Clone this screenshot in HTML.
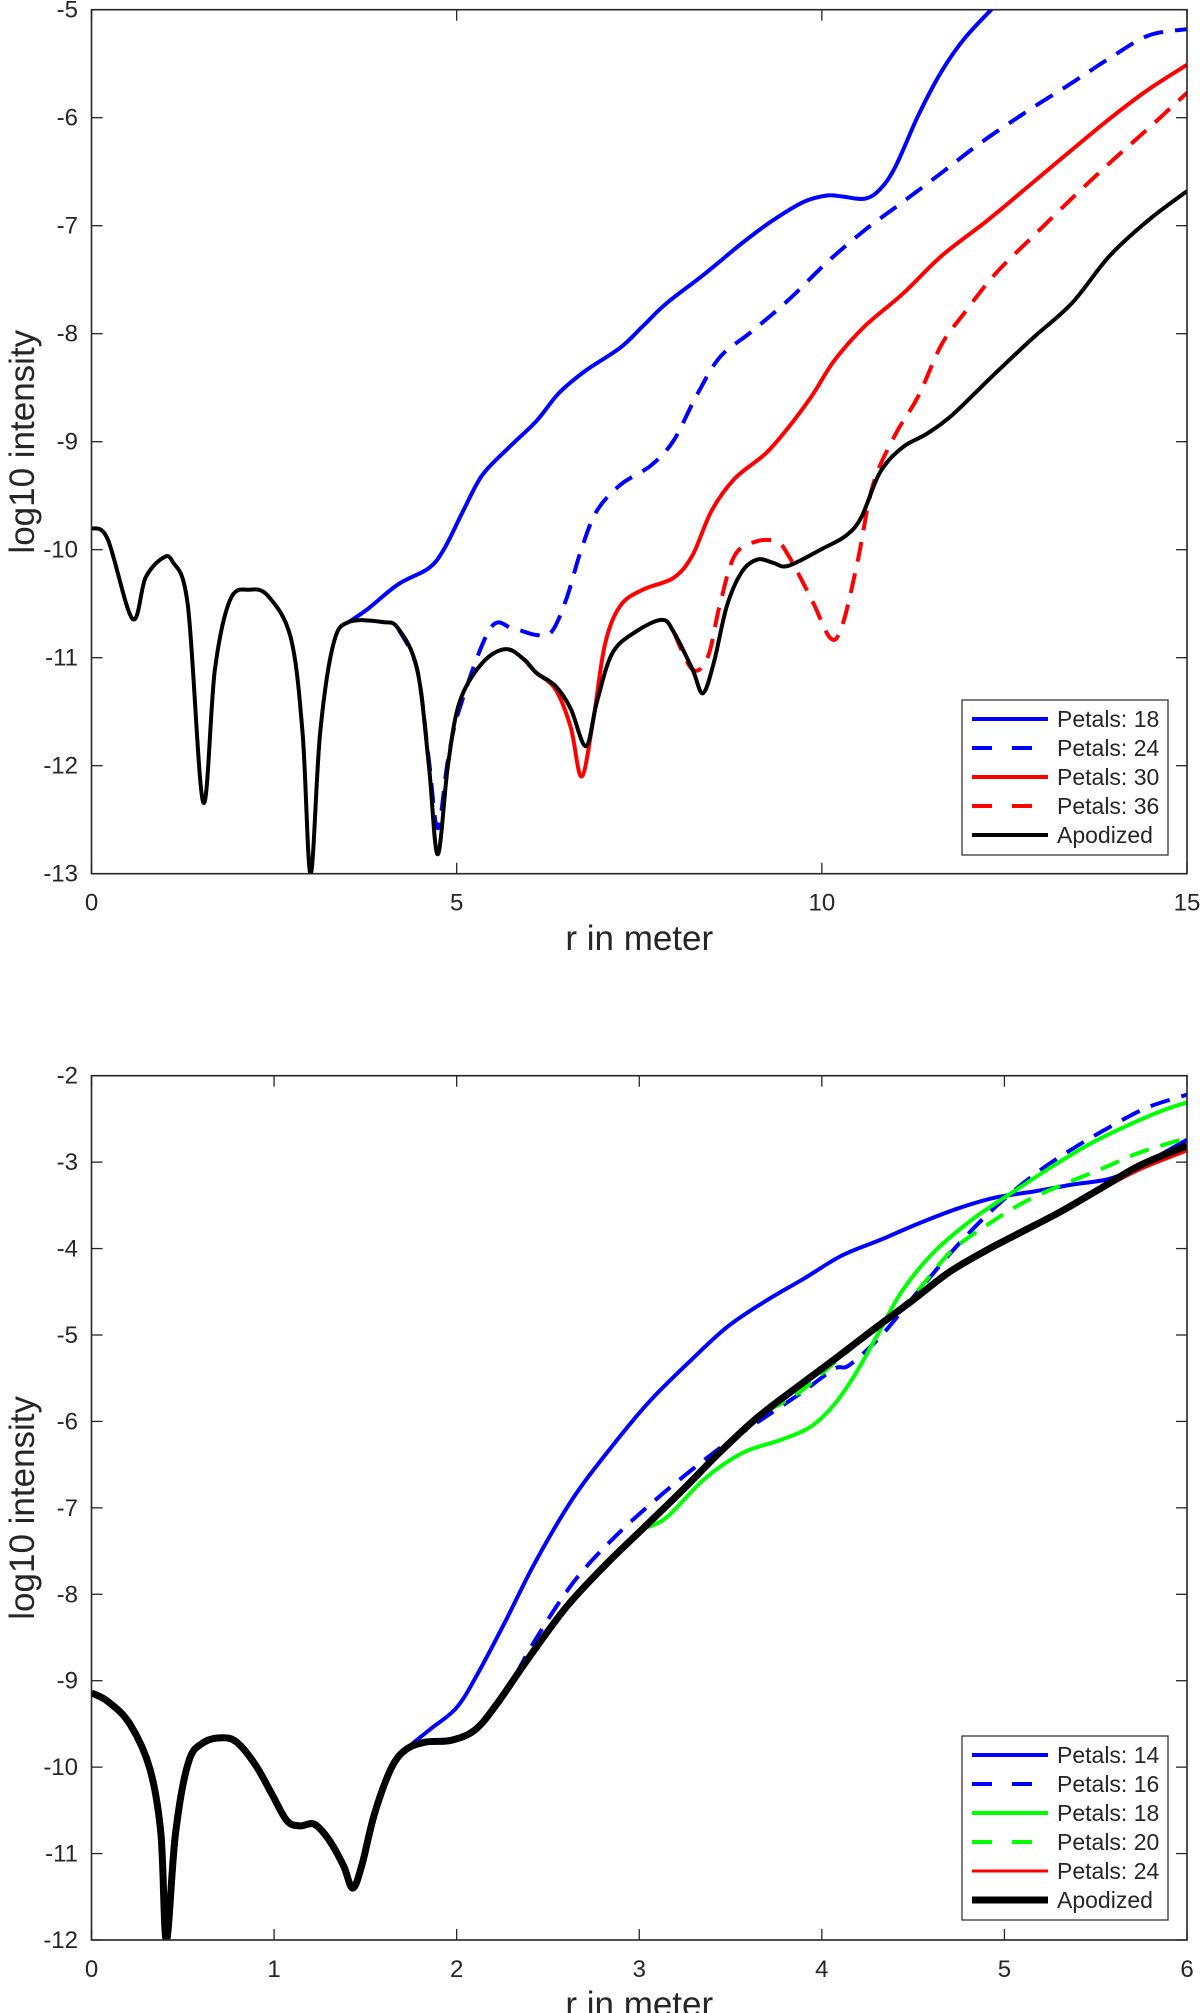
<!DOCTYPE html>
<html><head><meta charset="utf-8"><style>
html,body{margin:0;padding:0;background:#fff;}
svg{display:block;}
text{font-family:"Liberation Sans",sans-serif;fill:#262626;}
</style></head><body>
<svg id="svg" width="1200" height="2013" viewBox="0 0 1200 2013">
<defs>
<clipPath id="clipTop"><rect x="91.5" y="9.7" width="1095.5" height="864"/></clipPath>
<clipPath id="clipBot"><rect x="91.5" y="1075.7" width="1095.5" height="864.3"/></clipPath>
</defs>
<g id="top"></g>
<g id="bot"></g>
</svg>
<script>
// ---- top chart data ----
const topXTicks = [0,5,10,15];
const topYTicks = [-5,-6,-7,-8,-9,-10,-11,-12,-13];
const apoTopX = [0,0.22,0.56,0.74,0.97,1.11,1.32,1.53,1.69,1.90,2.16,2.42,2.73,2.89,3.0,3.13,3.31,3.52,3.99,4.20,4.46,4.62,4.74,4.88,5.04,5.35,5.67,5.93,6.09,6.35,6.56,6.77,6.92,7.13,7.45,7.81,7.97,8.23,8.37,8.52,8.70,8.91,9.12,9.33,9.54,10.01,10.33,10.54,10.80,11.11,11.43,11.79,12.37,12.89,13.42,13.94,14.47,15];
const apoTopY = [-9.80,-9.90,-10.64,-10.26,-10.08,-10.11,-10.52,-12.34,-11.11,-10.46,-10.37,-10.43,-10.82,-11.70,-13.0,-11.70,-10.88,-10.67,-10.67,-10.73,-11.11,-12.0,-12.82,-12.0,-11.41,-11.05,-10.92,-11.02,-11.14,-11.26,-11.47,-11.82,-11.41,-10.96,-10.76,-10.65,-10.76,-11.11,-11.33,-11.05,-10.52,-10.20,-10.09,-10.12,-10.15,-9.99,-9.87,-9.70,-9.28,-9.05,-8.93,-8.75,-8.37,-8.04,-7.72,-7.28,-6.95,-6.68];
const p18TopX = [3.52,3.78,4.20,4.62,4.83,5.09,5.35,5.72,6.09,6.40,6.77,7.24,7.55,7.87,8.39,8.91,9.33,9.75,10.07,10.28,10.59,10.80,11.01,11.32,11.64,11.95,12.32,12.58];
const p18TopY = [-10.67,-10.55,-10.32,-10.17,-9.99,-9.64,-9.31,-9.05,-8.81,-8.55,-8.34,-8.13,-7.93,-7.72,-7.45,-7.16,-6.95,-6.78,-6.72,-6.73,-6.75,-6.66,-6.45,-5.98,-5.57,-5.27,-5.0,-4.83];
const p24TopX = [4.20,4.46,4.62,4.74,4.88,5.04,5.46,5.77,6.09,6.30,6.50,6.71,6.92,7.24,7.66,7.97,8.28,8.60,9.02,9.54,10.07,10.59,11.11,11.64,12.16,12.79,13.42,13.94,14.47,15];
const p24TopY = [-10.73,-11.11,-11.95,-12.58,-11.95,-11.47,-10.73,-10.73,-10.79,-10.76,-10.46,-9.99,-9.64,-9.40,-9.22,-8.99,-8.58,-8.22,-7.99,-7.69,-7.34,-7.04,-6.78,-6.51,-6.24,-5.95,-5.68,-5.45,-5.24,-5.18];
const p30TopX = [5.93,6.09,6.35,6.56,6.71,6.87,7.03,7.24,7.55,7.97,8.23,8.49,8.81,9.23,9.54,9.86,10.17,10.59,11.11,11.64,12.27,12.89,13.42,13.94,14.47,15];
const p30TopY = [-11.02,-11.14,-11.29,-11.64,-12.10,-11.58,-10.88,-10.52,-10.37,-10.26,-10.05,-9.64,-9.34,-9.11,-8.87,-8.58,-8.25,-7.93,-7.63,-7.28,-6.95,-6.60,-6.30,-6.01,-5.74,-5.51];
const p36TopX = [7.97,8.23,8.44,8.60,8.81,9.12,9.39,9.54,9.86,10.12,10.28,10.49,10.70,11.01,11.32,11.64,11.95,12.37,12.89,13.42,13.94,14.47,15];
const p36TopY = [-10.76,-11.11,-10.99,-10.52,-10.05,-9.92,-9.93,-10.05,-10.46,-10.82,-10.70,-10.11,-9.40,-8.93,-8.58,-8.10,-7.81,-7.45,-7.10,-6.75,-6.42,-6.10,-5.77];
const topLegendLabels = ["Petals: 18","Petals: 24","Petals: 30","Petals: 36","Apodized"];

// ---- bottom chart data ----
const botXTicks = [0,1,2,3,4,5,6];
const botYTicks = [-2,-3,-4,-5,-6,-7,-8,-9,-10,-11,-12];
const apoBotX = [0,0.09,0.21,0.32,0.38,0.41,0.46,0.53,0.61,0.72,0.80,0.90,0.99,1.07,1.14,1.22,1.30,1.38,1.43,1.48,1.55,1.64,1.72,1.83,1.97,2.10,2.22,2.39,2.60,2.81,3.02,3.23,3.44,3.65,3.86,4.07,4.28,4.49,4.70,4.91,5.12,5.32,5.53,5.74,6];
const apoBotY = [-9.14,-9.24,-9.50,-10.02,-10.77,-12.0,-10.77,-9.95,-9.72,-9.66,-9.72,-9.98,-10.32,-10.62,-10.68,-10.66,-10.84,-11.14,-11.40,-11.14,-10.54,-10.02,-9.80,-9.71,-9.69,-9.57,-9.27,-8.75,-8.15,-7.67,-7.24,-6.81,-6.36,-5.95,-5.61,-5.28,-4.94,-4.61,-4.27,-4.01,-3.78,-3.56,-3.30,-3.04,-2.81];
const p14BotX = [1.64,1.72,1.85,2.0,2.12,2.27,2.43,2.64,2.85,3.06,3.27,3.48,3.69,3.90,4.11,4.32,4.53,4.74,4.95,5.16,5.37,5.58,5.78,6];
const p14BotY = [-10.02,-9.80,-9.57,-9.31,-8.90,-8.30,-7.63,-6.88,-6.29,-5.76,-5.32,-4.91,-4.61,-4.35,-4.08,-3.90,-3.71,-3.54,-3.41,-3.34,-3.26,-3.19,-3.00,-2.74];
const p16BotX = [1.97,2.10,2.27,2.43,2.64,2.85,3.06,3.27,3.48,3.69,3.90,4.07,4.15,4.32,4.53,4.74,4.95,5.16,5.37,5.58,5.78,6];
const p16BotY = [-9.69,-9.57,-9.12,-8.53,-7.86,-7.37,-6.96,-6.59,-6.25,-5.95,-5.65,-5.39,-5.35,-5.02,-4.49,-3.97,-3.52,-3.15,-2.85,-2.59,-2.37,-2.22];
const p18BotX = [3.02,3.15,3.36,3.57,3.78,3.94,4.07,4.19,4.32,4.44,4.61,4.82,5.03,5.24,5.45,5.66,5.87,6];
const p18BotY = [-7.24,-7.11,-6.66,-6.36,-6.21,-6.06,-5.80,-5.43,-4.94,-4.49,-4.05,-3.67,-3.37,-3.08,-2.81,-2.59,-2.40,-2.31];
const p20BotX = [3.44,3.65,3.86,4.07,4.28,4.49,4.70,4.91,5.12,5.32,5.53,5.74,6];
const p20BotY = [-6.36,-5.95,-5.69,-5.32,-4.94,-4.57,-4.05,-3.72,-3.45,-3.26,-3.08,-2.89,-2.72];
const p24BotX = [5.12,5.32,5.53,5.74,6];
const p24BotY = [-3.78,-3.56,-3.32,-3.09,-2.87];
const botLegendLabels = ["Petals: 14","Petals: 16","Petals: 18","Petals: 20","Petals: 24","Apodized"];

const NS = "http://www.w3.org/2000/svg";
function mk(tag, attrs, parent){
  const e = document.createElementNS(NS, tag);
  for (const k in attrs) e.setAttribute(k, attrs[k]);
  parent.appendChild(e);
  return e;
}
function makeAxes(x0,x1,y0,y1,dx0,dx1,dy0,dy1){
  return {
    sx: v => x0 + (v-dx0)/(dx1-dx0)*(x1-x0),
    sy: v => y0 + (dy1-v)/(dy1-dy0)*(y1-y0)
  };
}
function pathFrom(xs, ys, ax){
  const P = xs.map((x,i)=>[ax.sx(x), ax.sy(ys[i])]);
  let d = "M"+P[0][0].toFixed(1)+","+P[0][1].toFixed(1);
  for (let i=0;i<P.length-1;i++){
    const p0=P[Math.max(i-1,0)], p1=P[i], p2=P[i+1], p3=P[Math.min(i+2,P.length-1)];
    const t=1/6;
    const c1=[p1[0]+(p2[0]-p0[0])*t, p1[1]+(p2[1]-p0[1])*t];
    const c2=[p2[0]-(p3[0]-p1[0])*t, p2[1]-(p3[1]-p1[1])*t];
    d += "C"+c1[0].toFixed(1)+","+c1[1].toFixed(1)+" "+c2[0].toFixed(1)+","+c2[1].toFixed(1)+" "+p2[0].toFixed(1)+","+p2[1].toFixed(1);
  }
  return d;
}
function drawChart(g, box, dom, xt, yt, series, legend, clipId, xlabY){
  const ax = makeAxes(box.x0,box.x1,box.y0,box.y1,dom[0],dom[1],dom[2],dom[3]);
  const axis = "#262626";
  const sg = mk("g",{"clip-path":"url(#"+clipId+")"},g);
  
  
  series.forEach(s=>{
    const p = mk("path",{d:pathFrom(s.x,s.y,ax),fill:"none",stroke:s.color,"stroke-width":s.w,"stroke-linejoin":"round","stroke-linecap":"butt"},sg);
    if (s.dash) p.setAttribute("stroke-dasharray","20,12");
    
    
  });
  const fr = mk("rect",{x:box.x0,y:box.y0,width:box.x1-box.x0,height:box.y1-box.y0,fill:"none",stroke:axis,"stroke-width":1.6},g);
  
  
  xt.forEach(v=>{
    const x = ax.sx(v);
    mk("line",{x1:x,x2:x,y1:box.y1,y2:box.y1-11,stroke:axis,"stroke-width":1.3},g);
    mk("line",{x1:x,x2:x,y1:box.y0,y2:box.y0+11,stroke:axis,"stroke-width":1.3},g);
    const t = mk("text",{x:x,y:box.y1+37,"text-anchor":"middle","font-size":24},g);
    t.textContent = v;
    
    
  });
  yt.forEach(v=>{
    const y = ax.sy(v);
    mk("line",{x1:box.x0,x2:box.x0+11,y1:y,y2:y,stroke:axis,"stroke-width":1.3},g);
    mk("line",{x1:box.x1,x2:box.x1-11,y1:y,y2:y,stroke:axis,"stroke-width":1.3},g);
    const t = mk("text",{x:78,y:y+8,"text-anchor":"end","font-size":24},g);
    t.textContent = v;
    
    
  });
  const xl = mk("text",{x:(box.x0+box.x1)/2,y:xlabY,"text-anchor":"middle","font-size":35},g);
  xl.textContent = "r in meter";
  
  
  const cy=(box.y0+box.y1)/2;
  const yl = mk("text",{x:34,y:cy,"text-anchor":"middle","font-size":35,transform:"rotate(-90 34 "+cy+")"},g);
  yl.textContent = "log10 intensity";
  
  
  const lg = mk("g",{},g);
  
  
  const n = legend.length, rowH = 29;
  const top = legend.top;
  mk("rect",{x:962,y:top,width:206,height:n*rowH+10,fill:"#fff",stroke:axis,"stroke-width":1.2},lg);
  series.forEach((s,i)=>{
    const y = top+19+i*rowH;
    const l = mk("line",{x1:972,x2:1048,y1:y,y2:y,stroke:s.color,"stroke-width":s.w},lg);
    if (s.dash) l.setAttribute("stroke-dasharray","20,20");
    const t = mk("text",{x:1057,y:y+8,"font-size":23,fill:"#000"},lg);
    t.textContent = legend[i];
    
    
  });
}
const topLeg = topLegendLabels.slice(); topLeg.top = 700;
drawChart(document.getElementById("top"),{x0:91.5,x1:1187,y0:9.7,y1:873.7},[0,15,-13,-5],topXTicks,topYTicks,[
  {x:p18TopX,y:p18TopY,color:"#0000ff",w:4,dash:false,name:"line-petals-18"},
  {x:p24TopX,y:p24TopY,color:"#0000ff",w:4,dash:true,name:"line-petals-24"},
  {x:p30TopX,y:p30TopY,color:"#ff0000",w:4,dash:false,name:"line-petals-30"},
  {x:p36TopX,y:p36TopY,color:"#ff0000",w:4,dash:true,name:"line-petals-36"},
  {x:apoTopX,y:apoTopY,color:"#000000",w:4,dash:false,name:"line-apodized"}
],topLeg,"clipTop",950);
const botLeg = botLegendLabels.slice(); botLeg.top = 1736;
drawChart(document.getElementById("bot"),{x0:91.5,x1:1187,y0:1075.7,y1:1940},[0,6,-12,-2],botXTicks,botYTicks,[
  {x:p14BotX,y:p14BotY,color:"#0000ff",w:4,dash:false,name:"line-petals-14"},
  {x:p16BotX,y:p16BotY,color:"#0000ff",w:4,dash:true,name:"line-petals-16"},
  {x:p18BotX,y:p18BotY,color:"#00ff00",w:4,dash:false,name:"line-petals-18"},
  {x:p20BotX,y:p20BotY,color:"#00ff00",w:4,dash:true,name:"line-petals-20"},
  {x:p24BotX,y:p24BotY,color:"#ff0000",w:3,dash:false,name:"line-petals-24"},
  {x:apoBotX,y:apoBotY,color:"#000000",w:7,dash:false,name:"line-apodized"}
],botLeg,"clipBot",2016);
</script>
</body></html>
